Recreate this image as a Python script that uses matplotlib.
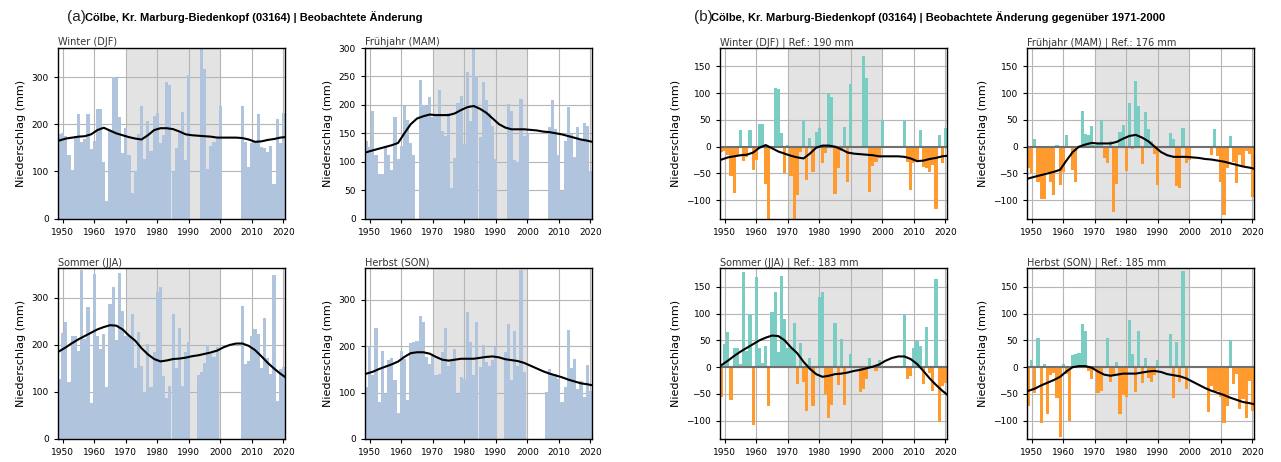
import numpy as np
import matplotlib
matplotlib.use("Agg")
import matplotlib.pyplot as plt

nan = np.nan
YEARS = np.arange(1949, 2021)
SEASONS = ["Winter (DJF)", "Frühjahr (MAM)", "Sommer (JJA)", "Herbst (SON)"]
REF = [190, 176, 183, 185]  # mean 1971-2000, mm

# seasonal anomalies vs. 1971-2000 (mm), 1949..2020, nan = no data
WINTER = [-10, -8, -15, -55, -86, -15, 32, -27, -20, 32, -43, -25, 43, 43, -70, -153, -3, 110, 108, 25,
          -50, 3, -55, -135, -90, -10, 50, -63, 17, -47, 28, 35, -30, -12, 100, 93, -88, -40, -8, 37,
          -66, 116, nan, nan, nan, 170, 128, -84, -36, -28, -22, 50, nan, nan, nan, nan, nan, nan,
          50, -28, -80, -30, -25, 32, -37, -40, -48, -35, -117, 22, -30, 34]
SPRING = [-40, -50, 14, -65, -97, -98, -48, -65, -90, 3, -72, -48, 22, -3, -43, -65, nan, 67, 23, 22,
          38, 3, 5, 50, -22, -30, 10, -122, -70, 28, 40, -45, 82, -4, 122, 75, -32, 65, 33, 10,
          -13, -72, nan, nan, nan, 25, 14, -73, -77, 35, -30, -25, nan, nan, nan, nan, nan, nan,
          -15, 33, -18, -65, -128, -40, 20, -28, -68, -15, -38, -8, -14, -93]
SUMMER = [-55, 43, 65, -62, 35, 35, 5, 177, 30, 98, -107, 168, 35, 8, 40, -73, 103, 141, 28, 170,
          90, 35, 35, 83, -32, 45, -27, -82, 18, -72, 3, 130, 140, -50, -95, -70, 83, -33, 52, -70,
          3, 24, nan, nan, -46, -40, -22, 17, -2, -8, 13, nan, nan, nan, nan, nan, nan, nan,
          100, -23, -17, 35, 50, 40, -32, 75, -10, -45, 165, -103, -35, -30]
AUTUMN = [-73, 13, -48, 55, -105, 5, -87, -15, -10, -57, -130, 5, -12, -100, 22, 25, 27, 80, 67, -8,
          -23, -5, -48, -45, 3, 55, -27, -15, 9, -87, -52, -55, 88, 24, -47, 68, -30, 17, -20, -28,
          -15, 13, nan, nan, 2, 62, -58, 47, -27, 180, -40, nan, nan, nan, nan, nan, nan,
          -84, -35, -46, -45, -55, -105, -72, 50, -32, -13, -78, -60, -95, -25, -82]
ANOM = [WINTER, SPRING, SUMMER, AUTUMN]

# smoothed trend (anomaly, mm)
TREND_YEARS = [1948.5] + list(range(1951, 2020, 2)) + [2020.5]
TREND_WINTER = [-25, -20, -18, -16, -15, -11, -2, 3, -3, -9, -13, -17, -20, -22, -13, -2, 2, 2, 0,
                -5, -11, -13, -14, -15, -16, -18, -18, -18, -18, -19, -22, -27, -26, -23, -21, -18, -17]
TREND_SPRING = [-60, -56, -53, -50, -47, -43, -26, -10, 0, 4, 7, 6, 6, 6, 9, 15, 20, 22, 17,
                10, 0, -10, -16, -19, -19, -19, -20, -21, -23, -24, -26, -28, -31, -34, -37, -39, -41]
TREND_SUMMER = [2, 12, 21, 29, 36, 43, 50, 55, 59, 58, 50, 37, 26, 10, -3, -13, -18, -16, -13,
                -12, -10, -7, -5, -2, 1, 5, 12, 17, 20, 20, 15, 6, -7, -21, -33, -44, -51]
TREND_AUTUMN = [-45, -40, -34, -29, -24, -18, -8, 0, 2, 2, -1, -8, -14, -16, -14, -12, -12, -12, -10,
                -8, -7, -9, -13, -15, -17, -21, -27, -33, -39, -44, -48, -52, -57, -61, -65, -67, -69]
TRENDS = [TREND_WINTER, TREND_SPRING, TREND_SUMMER, TREND_AUTUMN]

W, H = 1281, 462
BAR_ABS = "#b0c4de"
BAR_POS = "#79cdc3"
BAR_NEG = "#ff9a2e"
SHADE = "#e3e3e3"


def make_ax(fig, left, top):
    return fig.add_axes([left / W, 1 - (top + 171) / H, 227 / W, 171 / H])


def style(ax, title):
    ax.set_xlim(1948.5, 2020.5)
    ax.set_xticks(range(1950, 2021, 10))
    ax.axvspan(1970, 2000, color=SHADE, zorder=0, lw=0)
    ax.grid(True, color="#b5b5b5", lw=0.8)
    ax.set_axisbelow(True)
    ax.tick_params(labelsize=6.5, length=3, width=0.8)
    ax.set_ylabel("Niederschlag (mm)", fontsize=8)
    ax.set_title(title, loc="left", fontsize=7, pad=1.5, color="#333333")
    for s in ax.spines.values():
        s.set_linewidth(1.0)


fig = plt.figure(figsize=(W / 100, H / 100), dpi=100)
cols = [58, 365]
rows = [47.5, 268]
pos = [(0, 0), (1, 0), (0, 1), (1, 1)]

for i, (season, ref, anom, trend) in enumerate(zip(SEASONS, REF, ANOM, TRENDS)):
    anom = np.array(anom, dtype=float)
    trend = np.array(trend, dtype=float)
    precip = ref + anom
    c, r = pos[i]

    # (a) absolute values
    ax = make_ax(fig, cols[c], rows[r])
    style(ax, season)
    ax.bar(YEARS, precip, width=1.0, color=BAR_ABS, lw=0, zorder=2)
    ax.plot(TREND_YEARS, ref + trend, color="black", lw=1.5, zorder=3)
    top = np.nanmax(precip) * 1.01
    ax.set_ylim(0, top)
    step = 50 if top < 320 else 100
    ax.set_yticks(np.arange(0, top, step))

    # (b) change vs 1971-2000
    ax = make_ax(fig, cols[c] + 662, rows[r])
    style(ax, f"{season} | Ref.: {ref} mm")
    colors = [BAR_POS if v >= 0 else BAR_NEG for v in np.nan_to_num(anom)]
    ax.bar(YEARS, anom, width=1.0, color=colors, lw=0, zorder=2)
    ax.axhline(0, color="#707070", lw=1.5, zorder=2.5)
    ax.plot(TREND_YEARS, trend, color="black", lw=1.5, zorder=3)
    ax.set_ylim(-134, 185)
    ax.set_yticks([-100, -50, 0, 50, 100, 150])

narrow = ["Liberation Sans Narrow", "Liberation Sans", "DejaVu Sans"]
fig.text(67 / W, 1 - 17 / H, "(a)", fontsize=11, family=narrow, va="center", ha="left", color="#222222")
fig.text(85 / W, 1 - 17 / H, "Cölbe, Kr. Marburg-Biedenkopf (03164) | Beobachtete Änderung",
         fontsize=8, family=narrow, weight="bold", va="center", ha="left")
fig.text(694 / W, 1 - 17 / H, "(b)", fontsize=11, family=narrow, va="center", ha="left", color="#222222")
fig.text(711 / W, 1 - 17 / H,
         "Cölbe, Kr. Marburg-Biedenkopf (03164) | Beobachtete Änderung gegenüber 1971-2000",
         fontsize=8, family=narrow, weight="bold", va="center", ha="left")

fig.savefig("out.png", dpi=100)
